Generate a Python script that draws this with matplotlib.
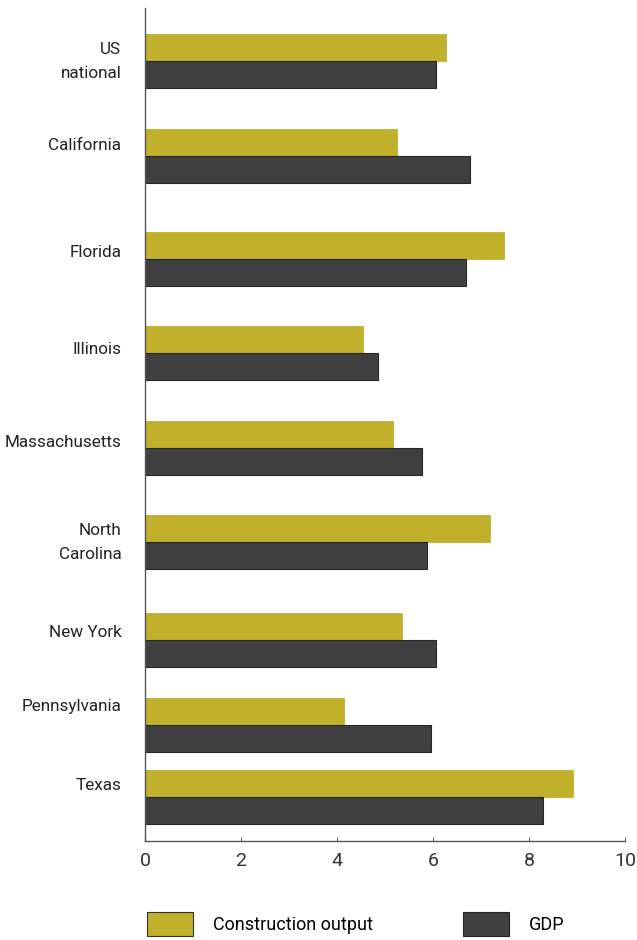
import matplotlib.pyplot as plt
from matplotlib.patches import Patch

# data
states = ['US\nnational', 'California', 'Florida', 'Illinois', 'Massachusetts',
          'North\nCarolina', 'New York', 'Pennsylvania', 'Texas']
construction = [6.27, 5.25, 7.48, 4.54, 5.17, 7.19, 5.35, 4.15, 8.92]
gdp = [6.06, 6.77, 6.69, 4.85, 5.77, 5.88, 6.06, 5.96, 8.29]
xticks = [0, 2, 4, 6, 8, 10]

# layout (rows are not evenly spaced in the original)
row_pos = [61, 156, 259, 353, 448, 542, 640, 725, 797]
label_pos = [56, 144, 251, 348, 441, 537, 631, 705, 784]
bar_h = 27

gold = '#c0b02c'
dark = '#404040'

plt.rcParams['font.family'] = ['Roboto', 'DejaVu Sans']

fig = plt.figure(figsize=(6.37, 9.40), dpi=100)
ax = fig.add_axes([145 / 637, 99 / 940, 480 / 637, 833 / 940])

ax.barh([p - bar_h / 2 for p in row_pos], construction, height=bar_h,
        color=gold, edgecolor=gold, linewidth=0.6)
ax.barh([p + bar_h / 2 for p in row_pos], gdp, height=bar_h,
        color=dark, edgecolor='#262626', linewidth=0.8)

ax.set_xlim(0, 10)
ax.set_ylim(841, 8)
ax.set_xticks(xticks)
ax.set_xticklabels([str(t) for t in xticks], fontsize=14, color='#333333')
ax.set_yticks(label_pos)
ax.set_yticklabels(states, fontsize=12.3, color='#222222', ha='right')
for lbl in ax.get_yticklabels():
    lbl.set_linespacing(1.75)
ax.tick_params(axis='y', length=0, pad=17)
ax.tick_params(axis='x', direction='in', length=3, color='#666666', pad=8)

for s in ['top', 'right']:
    ax.spines[s].set_visible(False)
for s in ['left', 'bottom']:
    ax.spines[s].set_color('#555555')
    ax.spines[s].set_linewidth(1.0)

handles = [Patch(facecolor=gold, edgecolor='#333333', linewidth=0.8, label='Construction output'),
           Patch(facecolor=dark, edgecolor='#222222', linewidth=0.8, label='GDP')]
fig.legend(handles=handles, loc='center left', bbox_to_anchor=(147 / 637, 16 / 940),
           ncol=2, frameon=False, fontsize=13, handlelength=2.55, handleheight=1.6,
           handletextpad=1.1, columnspacing=5.0, borderaxespad=0, borderpad=0)

fig.savefig('out.png', dpi=100)
